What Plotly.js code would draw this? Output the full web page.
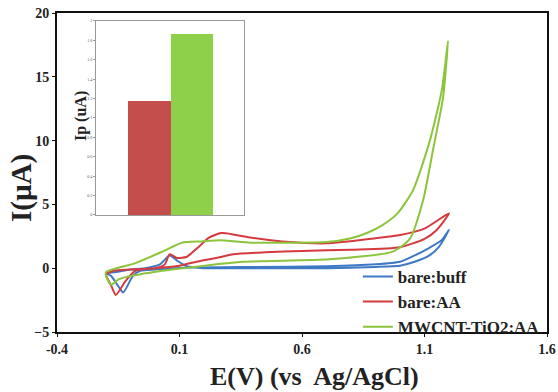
<!DOCTYPE html>
<html>
<head>
<meta charset="utf-8">
<script src="https://cdn.plot.ly/plotly-3.0.1.min.js"></script>
<style>html,body{margin:0;padding:0;background:#fff;}#chart{width:558px;height:392px;}</style>
</head>
<body>
<div id="chart"></div>
<script>
// Cyclic voltammograms: potential (V vs Ag/AgCl) and current (µA), one closed loop per electrode
const buffE = [-0.2, -0.16, -0.1, -0.04, 0.02, 0.06, 0.09, 0.13, 0.2, 0.4, 0.7, 0.9, 1.0, 1.06, 1.12, 1.16, 1.2,
               1.17, 1.12, 1.06, 1.0, 0.9, 0.7, 0.4, 0.15, 0.0, -0.06, -0.09, -0.13, -0.15, -0.18, -0.2];
const buffI = [-0.4, -0.3, -0.1, 0.0, 0.3, 1.0, 0.6, 0.15, 0.0, 0.0, 0.0, 0.1, 0.2, 0.5, 1.0, 1.7, 3.0,
               2.2, 1.6, 1.0, 0.5, 0.3, 0.15, 0.1, 0.05, -0.1, -0.2, -0.6, -1.9, -1.4, -0.6, -0.4];

const aaE = [-0.2, -0.17, -0.1, 0.0, 0.04, 0.06, 0.09, 0.13, 0.18, 0.22, 0.27, 0.32, 0.39, 0.52, 0.7, 0.9, 1.0, 1.1, 1.2,
             1.15, 1.1, 1.0, 0.8, 0.6, 0.45, 0.32, 0.25, 0.18, 0.1, 0.0, -0.08, -0.12, -0.16, -0.18, -0.2];
const aaI = [-0.5, -0.2, -0.1, 0.0, 0.3, 1.1, 0.8, 0.9, 1.7, 2.4, 2.75, 2.65, 2.4, 2.1, 1.95, 2.35, 2.6, 3.1, 4.3,
             3.0, 2.3, 1.65, 1.45, 1.35, 1.25, 1.1, 0.8, 0.55, 0.2, 0.0, -0.2, -1.0, -2.1, -1.3, -0.5];

const tioE = [-0.2, -0.18, -0.15, -0.12, 0.03, 0.16, 0.36, 0.71, 0.97, 1.04, 1.094, 1.135, 1.176, 1.196,
              1.171, 1.122, 1.053, 0.99, 0.93, 0.87, 0.8, 0.7, 0.55, 0.39, 0.265, 0.19, 0.11, 0.03, -0.08, -0.2, -0.2];
const tioI = [-0.6, -1.3, -0.9, -0.7, -0.2, 0.1, 0.5, 0.7, 1.3, 2.3, 5.3, 9.3, 13.4, 17.8,
              14.0, 10.0, 6.1, 4.3, 3.4, 2.8, 2.35, 2.05, 2.0, 2.0, 2.2, 2.1, 2.0, 1.3, 0.4, -0.3, -0.6];

const seriesNames = ['bare:buff', 'bare:AA', 'MWCNT-TiO2:AA'];

// Inset: peak currents
const barCats = [0, 1];
const barIp = [1.18, 1.87];

const xTicks = [-0.4, 0.1, 0.6, 1.1, 1.6];
const xTickText = ['-0.4', '0.1', '0.6', '1.1', '1.6'];
const yTicks = [-5, 0, 5, 10, 15, 20];
const insetTicks = [0, 0.2, 0.4, 0.6, 0.8, 1, 1.2, 1.4, 1.6, 1.8, 2];

const serif = '"Liberation Serif", "Times New Roman", serif';
const cBlue = '#3f79c6', cRed = '#d43a3e', cGreen = '#8cc43c';

function cv(x, y, name, color) {
  return {x: x, y: y, name: name, type: 'scatter', mode: 'lines',
          line: {color: color, width: 2, shape: 'spline', smoothing: 0.6},
          xaxis: 'x', yaxis: 'y'};
}

const data = [
  cv(buffE, buffI, seriesNames[0], cBlue),
  cv(aaE, aaI, seriesNames[1], cRed),
  cv(tioE, tioI, seriesNames[2], cGreen),
  {x: barCats, y: barIp, type: 'bar', xaxis: 'x2', yaxis: 'y2', showlegend: false,
   marker: {color: ['#c44e4c', '#8fd04a'], line: {width: 0}}, hoverinfo: 'skip'}
];

const axisFont = {family: serif, size: 14, color: '#222', weight: 'bold'};

const layout = {
  width: 558, height: 392,
  margin: {l: 57, r: 11, t: 13, b: 60},
  paper_bgcolor: '#fff', plot_bgcolor: 'rgba(0,0,0,0)',
  showlegend: true,
  legend: {x: 0.614, xanchor: 'left', y: 0.229, yanchor: 'top', bgcolor: 'rgba(255,255,255,0)',
           font: {family: serif, size: 17, color: '#222', weight: 'bold'},
           itemwidth: 30, tracegroupgap: 0},
  bargap: 0,
  xaxis: {range: [-0.4, 1.6], tickvals: xTicks, ticktext: xTickText, showgrid: false, zeroline: false,
          showline: true, linecolor: '#111', linewidth: 2, mirror: true,
          ticks: 'outside', ticklen: 3, tickcolor: '#111', tickwidth: 1, ticklabelstandoff: 0,
          tickfont: axisFont},
  yaxis: {range: [-5, 20], tickvals: yTicks, showgrid: false, zeroline: false,
          showline: true, linecolor: '#111', linewidth: 2, mirror: true,
          ticks: 'outside', ticklen: 3, tickcolor: '#111', tickwidth: 1,
          tickfont: axisFont},
  xaxis2: {domain: [0.0796, 0.3816], anchor: 'y2', range: [-1.25, 2.22], showticklabels: false, ticks: '',
           showgrid: false, zeroline: false, showline: true, linecolor: '#999', linewidth: 1, mirror: true},
  yaxis2: {domain: [0.3668, 0.975], anchor: 'x2', range: [0, 2], tickvals: insetTicks,
           showgrid: false, zeroline: false, showline: true, linecolor: '#999', linewidth: 1, mirror: true,
           ticks: 'outside', ticklen: 2, tickcolor: '#999',
           tickfont: {family: serif, size: 4, color: '#555'}},
  annotations: [
    {xref: 'paper', yref: 'paper', x: (314 - 57) / 490, y: -(376 - 332) / 319, text: 'E(V) (vs  Ag/AgCl)',
     showarrow: false, xanchor: 'center', yanchor: 'middle',
     font: {family: serif, size: 26, color: '#222', weight: 'bold'}},
    {xref: 'paper', yref: 'paper', x: -(57 - 21) / 490, y: (332 - 188) / 319, text: 'I(µA)', textangle: -90,
     showarrow: false, xanchor: 'center', yanchor: 'middle',
     font: {family: serif, size: 29, color: '#222', weight: 'bold'}},
    {xref: 'paper', yref: 'paper', x: (81 - 57) / 490, y: (332 - 116) / 319, text: 'Ip (uA)', textangle: -90,
     showarrow: false, xanchor: 'center', yanchor: 'middle',
     font: {family: serif, size: 16, color: '#222', weight: 'bold'}}
  ]
};

Plotly.newPlot('chart', data, layout, {staticPlot: true, displayModeBar: false});
</script>
</body>
</html>
